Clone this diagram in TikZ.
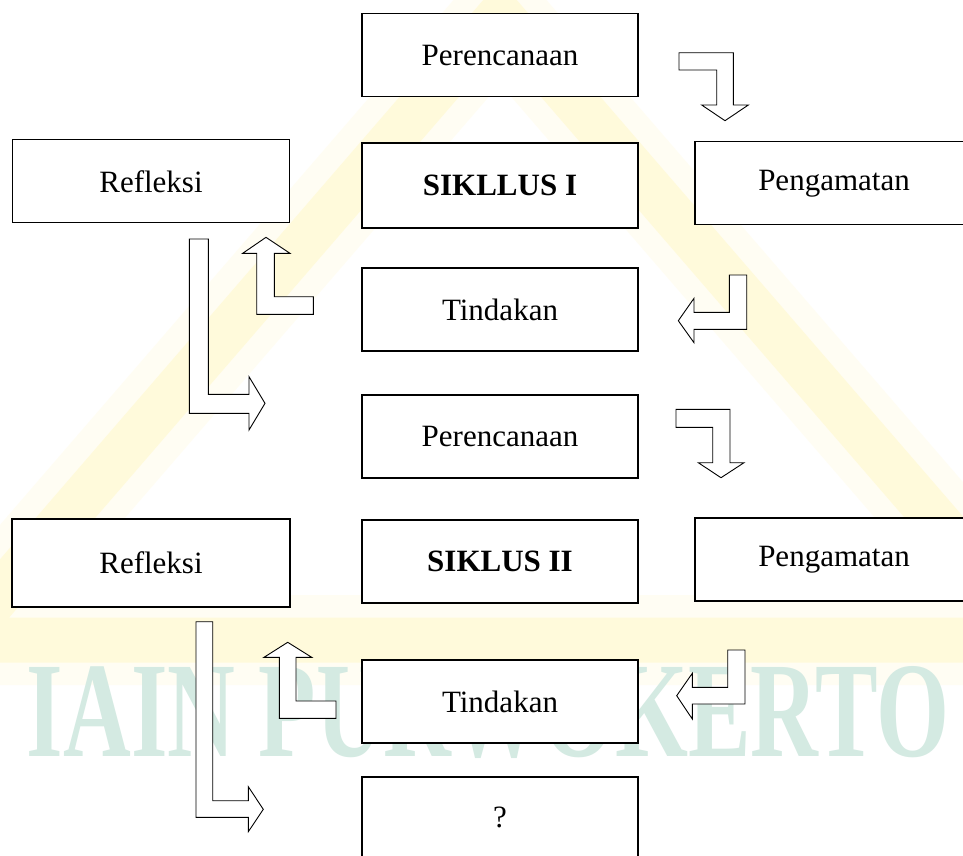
\documentclass[tikz,border=0pt]{standalone}
\usepackage{fontspec}
\setmainfont{Liberation Serif}
\definecolor{wmy}{RGB}{255,240,110}
\definecolor{wmt}{RGB}{212,234,226}
\tikzset{
  box/.style={draw=black, line width=1.1pt, fill=white, minimum width=276pt,
    minimum height=83pt, inner sep=0pt, font=\fontsize{31}{37}\selectfont},
  barrow/.style={draw=black, line width=0.9pt, fill=white, line join=miter},
}
\begin{document}
\begin{tikzpicture}[x=1pt,y=-1pt]
\useasboundingbox (0,0) rectangle (963,855);
\clip (0,0) rectangle (963,855);
\fill[white] (0,0) rectangle (963,855);
% watermark
\draw[wmy, line width=90pt, opacity=0.08, line join=round] (500,15) -- (1040,640) -- (-40,640) -- cycle;
\draw[wmy, line width=45pt, opacity=0.18, line join=round] (500,15) -- (1040,640) -- (-40,640) -- cycle;
\node[text=wmt, font=\fontsize{136}{140}\selectfont\bfseries, inner sep=0pt] (wm) at (488,712) {\scalebox{0.69}[1]{IAIN PURWOKERTO}};
% boxes
\node[box] (p1) at (500,55) {Perencanaan};
\node[box, minimum height=85pt] (s1) at (500,185.5) {\bfseries SIKLLUS I};
\node[box, minimum width=277pt] (r1) at (151,181.3) {Refleksi};
\node[box, minimum width=278pt] (g1) at (834,183.3) {Pengamatan};
\node[box] (t1) at (500,309.5) {Tindakan};
\node[box] (p2) at (500,436.5) {Perencanaan};
\node[box] (s2) at (500,561.5) {\bfseries SIKLUS II};
\node[box, minimum width=278pt, minimum height=88pt] (r2) at (151,563) {Refleksi};
\node[box, minimum width=278pt] (g2) at (834,559.5) {Pengamatan};
\node[box] (t2) at (500,701.5) {Tindakan};
\node[box, minimum height=80pt] (q) at (500,817) {?};
% block arrows
\draw[barrow] (679,52.7) -- (733.3,52.7) -- (733.3,105) -- (748.3,105) -- (725,120.7) -- (701.7,105) -- (716.7,105) -- (716.7,70) -- (679,70) -- cycle;
\draw[barrow] (256.7,314.3) -- (313.3,314.3) -- (313.3,296.7) -- (274.3,296.7) -- (274.3,253.3) -- (290,253.3) -- (266,237.3) -- (242.7,253.3) -- (256.7,253.3) -- cycle;
\draw[barrow] (189.3,239) -- (208.3,239) -- (208.3,394.3) -- (249,394.3) -- (249,376.7) -- (265,403.3) -- (249,430) -- (249,413.3) -- (189.3,413.3) -- cycle;
\draw[barrow] (729.3,275) -- (746.7,275) -- (746.7,329.3) -- (694,329.3) -- (694,342.7) -- (678.3,320.7) -- (694,298.3) -- (694,312.3) -- (729.3,312.3) -- cycle;
\draw[barrow] (676,409.3) -- (730,409.3) -- (730,462.7) -- (744,462.7) -- (721,477.7) -- (698.3,462.7) -- (712.7,462.7) -- (712.7,427.3) -- (676,427.3) -- cycle;
\draw[barrow] (279.3,718.3) -- (336,718.3) -- (336,701) -- (296,701) -- (296,657.3) -- (311.7,657.3) -- (287.7,642.3) -- (264,657.3) -- (279.3,657.3) -- cycle;
\draw[barrow] (196,621.7) -- (212.7,621.7) -- (212.7,800.7) -- (248.3,800.7) -- (248.3,786.7) -- (263.3,809.3) -- (248.3,831.7) -- (248.3,817.3) -- (196,817.3) -- cycle;
\draw[barrow] (727.7,650) -- (745,650) -- (745,704) -- (692.3,704) -- (692.3,719) -- (676.7,695.7) -- (692.3,673.3) -- (692.3,687.3) -- (727.7,687.3) -- cycle;
\end{tikzpicture}
\end{document}
